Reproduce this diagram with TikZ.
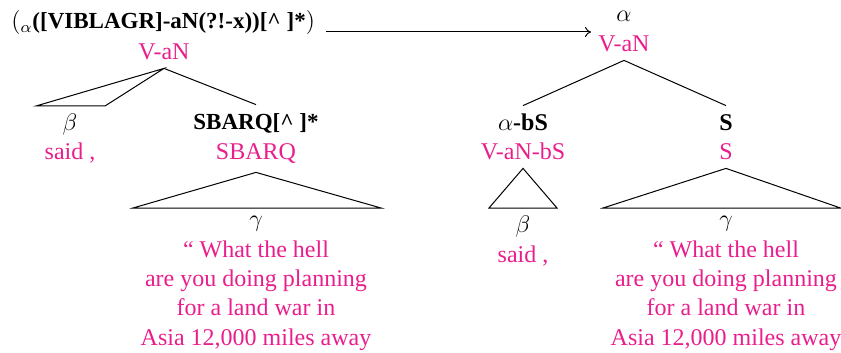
\documentclass[tikz,border=0pt]{standalone}
\usepackage{fontspec}
\setmainfont{Liberation Serif}[BoldFont={Liberation Serif Bold}]
\usetikzlibrary{arrows.meta, positioning, calc}
\definecolor{tagpink}{HTML}{E91E8C}

\begin{document}
\begin{tikzpicture}[
    x=0.5pt, y=-0.5pt,
    every node/.style={font=\fontsize{12}{14.7}\selectfont, inner sep=0pt},
    pat/.style={font=\fontsize{12}{14.7}\selectfont\bfseries, anchor=base, text height=8.5pt, inner ysep=4pt},
    regex/.style={font=\fontsize{11.5}{14}\selectfont\bfseries},
    cat/.style={text=tagpink, anchor=base, text depth=0pt, inner ysep=4pt},
    var/.style={anchor=base},
    words/.style={text=tagpink, align=center, anchor=north},
    branch/.style={line width=0.5pt},
    >={To[length=3pt,width=5pt]}
]
\useasboundingbox (0,0) rectangle (841,353);

% the rewrite rule
\node[anchor=base west] (rule) at (11,29) {$(_\alpha${\fontsize{11.5}{14}\selectfont\bfseries([VIBLAGR]-aN(?!-x))[\^{} ]*}$)$};
\coordinate (rin) at (591,32);
\draw[branch, ->, shorten <=5.5pt] (rule.east |- rin) -- (rin);

% left tree
\node[cat] (lroot) at (164,60) {V-aN};
\coordinate (lbl) at (36,106);
\coordinate (lbr) at (105,106);
\draw[branch] (lroot.south) -- (lbl) -- (lbr) -- cycle;
\node[var] (lbeta) at (70,131) {$\beta$};
\node[cat] (lsaid) at (70,160) {said ,};

\node[pat, regex] (lsub) at (256,130) {SBARQ[\^{} ]*};
\draw[branch] (lroot.south) -- (lsub.north);
\node[cat, inner ysep=6pt] (lsbarq) at (256,160) {SBARQ};
\coordinate (lgl) at (133,208);
\coordinate (lgr) at (381,208);
\draw[branch] (lsbarq.south) -- (lgl) -- (lgr) -- cycle;
\node[var] (lgamma) at (256,227) {$\gamma$};
\node[words] (lwords) at (256,240) {“ What the hell\\are you doing planning\\for a land war in\\Asia 12,000 miles away};

% right tree
\node[var] (ralpha) at (624,22) {$\alpha$};
\node[cat] (rroot) at (624,52) {V-aN};
\node[pat] (rbs) at (523,131) {$\alpha$-bS};
\node[pat] (rs) at (726,131) {S};
\draw[branch] (rbs.north) -- (rroot.south) -- (rs.north);

\node[cat] (rvbs) at (523,160) {V-aN-bS};
\coordinate (rbl) at (489,208);
\coordinate (rbr) at (557,208);
\draw[branch] (rvbs.south) -- (rbl) -- (rbr) -- cycle;
\node[var] (rbeta) at (523,232) {$\beta$};
\node[cat] (rsaid) at (523,262) {said ,};

\node[cat] (rscat) at (726,160) {S};
\coordinate (rgl) at (603,208);
\coordinate (rgr) at (840.5,208);
\draw[branch] (rscat.south) -- (rgl) -- (rgr) -- cycle;
\node[var] (rgamma) at (726,227) {$\gamma$};
\node[words] (rwords) at (726,240) {“ What the hell\\are you doing planning\\for a land war in\\Asia 12,000 miles away};
\end{tikzpicture}
\end{document}
